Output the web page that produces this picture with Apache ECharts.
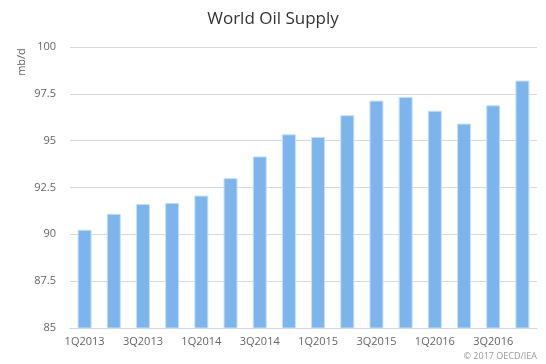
<!DOCTYPE html>
<html>
<head>
<meta charset="utf-8">
<script src="https://cdn.jsdelivr.net/npm/echarts@6/dist/echarts.min.js"></script>
<style>
  html, body { margin: 0; padding: 0; background: #fff; }
  #chart { width: 546px; height: 364px; }
</style>
</head>
<body>
<div id="chart"></div>
<script>
// quarters on the x axis
const quarters = ['1Q2013', '2Q2013', '3Q2013', '4Q2013',
  '1Q2014', '2Q2014', '3Q2014', '4Q2014',
  '1Q2015', '2Q2015', '3Q2015', '4Q2015',
  '1Q2016', '2Q2016', '3Q2016', '4Q2016'];
// world oil supply, mb/d
const supply = [90.25, 91.1, 91.62, 91.68, 92.07, 93.0, 94.16, 95.34,
  95.2, 96.36, 97.14, 97.34, 96.6, 95.91, 96.89, 98.21];

const font = '"Open Sans", "DejaVu Sans", sans-serif';
const chart = echarts.init(document.getElementById('chart'));
chart.setOption({
  animation: false,
  title: {
    text: 'World Oil Supply',
    left: 'center',
    top: 6,
    textStyle: { fontFamily: font, fontSize: 17, fontWeight: 'normal', color: '#333' }
  },
  grid: { left: 70, right: 9, top: 47, bottom: 36, containLabel: false },
  xAxis: {
    type: 'category',
    data: quarters,
    axisLine: { lineStyle: { color: '#ccd6eb' } },
    axisTick: { interval: 0, length: 8, lineStyle: { color: '#ccd6eb' } },
    axisLabel: { interval: 1, color: '#666', fontSize: 11, fontFamily: font, margin: 8 },
    splitLine: { show: false }
  },
  yAxis: {
    type: 'value',
    min: 85,
    max: 100,
    interval: 2.5,
    axisLine: { show: false },
    axisTick: { show: false },
    axisLabel: { color: '#666', fontSize: 11, fontFamily: font, margin: 14 },
    splitLine: { lineStyle: { color: '#d8d8d8' } }
  },
  graphic: [
    {
      type: 'text',
      x: 22, y: 62,
      rotation: Math.PI / 2,
      style: {
        text: 'mb/d', fill: '#666', font: '11px ' + font,
        align: 'center', verticalAlign: 'middle'
      }
    },
    {
      type: 'text',
      right: 9, bottom: 3,
      style: { text: '\u00a9 2017 OECD/IEA', fill: '#999', font: '9px ' + font }
    }
  ],
  series: [{
    type: 'bar',
    data: supply,
    barWidth: '48%',
    itemStyle: { color: '#7cb5ec', borderColor: '#c9e0f7', borderWidth: 1 }
  }]
});
</script>
</body>
</html>
